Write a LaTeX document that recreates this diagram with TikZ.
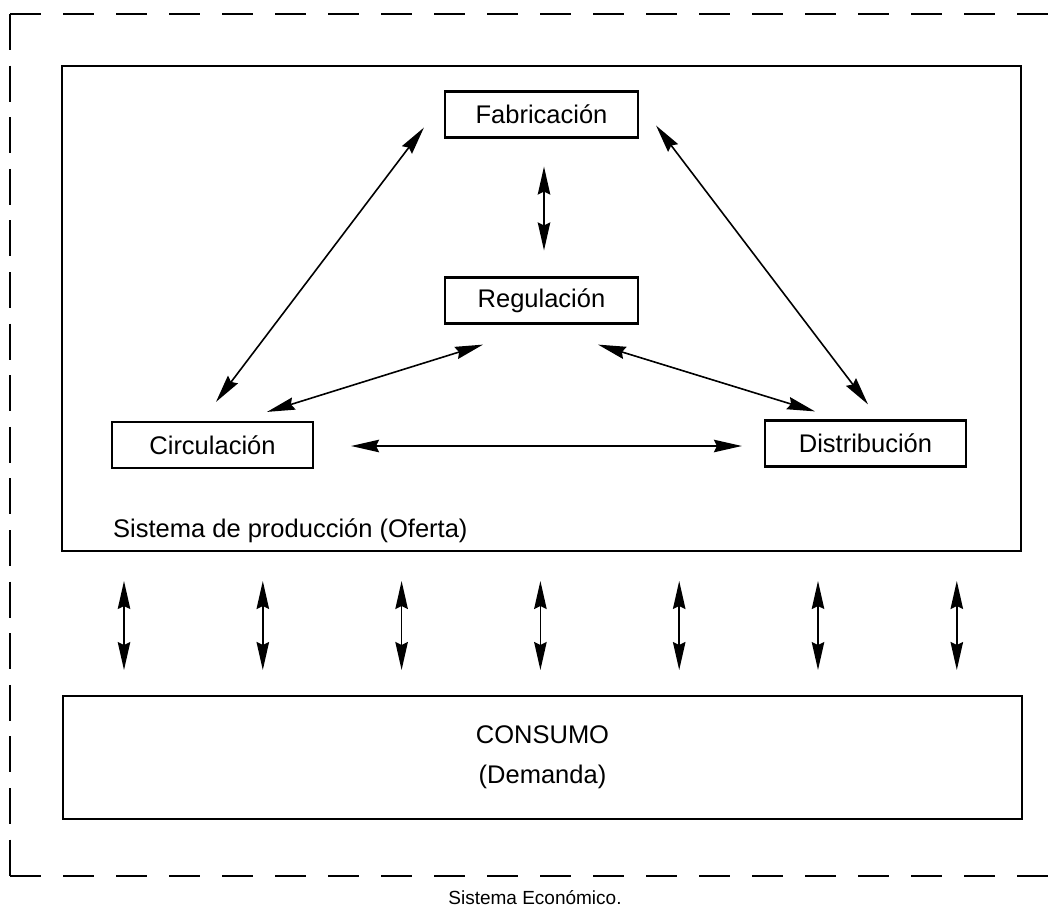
\documentclass[tikz,border=0pt]{standalone}
\usepackage{fontspec}
\setmainfont{Liberation Sans}
\usetikzlibrary{arrows.meta,calc}
\begin{document}
\begin{tikzpicture}[x=1pt,y=-1pt,
  every node/.style={font=\fontsize{25.5}{30}\selectfont, inner sep=0pt},
  smallbox/.style={draw, line width=2.2pt, rectangle, minimum width=#1, minimum height=46pt},
  bigbox/.style={draw, line width=2pt, rectangle},
  arr/.style={line width=1.6pt, {Stealth[length=28pt,width=12.5pt,inset=3pt]}-{Stealth[length=28pt,width=12.5pt,inset=3pt]}},
  hframe/.style={line width=2pt, dash pattern=on 31pt off 22pt},
  vframe/.style={line width=2pt, dash pattern=on 36pt off 15.6pt}]
\useasboundingbox (0,0) rectangle (1063,908);
% outer dashed frame (open on the right)
\coordinate (tl) at (10,14);
\coordinate (bl) at (10,876);
\draw[hframe] (tl) -- (1063,14);
\draw[hframe] (bl) -- (1063,876);
\draw[vframe] (tl) -- (bl);
% production system box
\node[bigbox, minimum width=959pt, minimum height=485pt] (prod) at (541.5,308.5) {};
\node[anchor=base west] (prodlabel) at (113,537) {Sistema de producci\'on (Oferta)};
% consumption box
\node[bigbox, minimum width=959pt, minimum height=123pt, align=center,
      font=\fontsize{25.5}{40}\selectfont] (cons) at (542.5,757.5) {CONSUMO\\(Demanda)};
% inner boxes
\node[smallbox=193pt] (fab) at (541.5,114.5) {Fabricaci\'on};
\node[smallbox=193pt] (reg) at (541.5,300.5) {Regulaci\'on};
\node[smallbox=201pt] (circ) at (212.5,445) {Circulaci\'on};
\node[smallbox=201pt] (dist) at (865.5,443.5) {Distribuci\'on};
% connectors
\draw[arr] ([shift={(-20,-11)}]fab.south west) -- ([shift={(3.5,-19)}]circ.north);
\draw[arr] ([shift={(17,-13)}]fab.south east) -- ([shift={(2.5,-15)}]dist.north);
\draw[arr] ([shift={(2.5,28)}]fab.south) -- ([shift={(2.5,-26)}]reg.north);
\draw[arr] ([shift={(-58.5,20)}]reg.south) -- ([shift={(54.5,-9)}]circ.north);
\draw[arr] ([shift={(56.5,20)}]reg.south) -- ([shift={(-50.5,-8)}]dist.north);
\draw[arr] ([shift={(37,1)}]circ.east) -- ([shift={(-22,2.5)}]dist.west);
% vertical arrows between production and consumption
\foreach \x in {124,262.8,401.6,540.4,679.2,818,956.8}{
  \draw[arr] ($(prod.south -| \x,0)+(0,29)$) -- ($(cons.north -| \x,0)+(0,-25)$);
}
% caption
\node[font=\fontsize{19}{23}\selectfont] (caption) at (535,898) {Sistema Econ\'omico.};
\end{tikzpicture}
\end{document}
